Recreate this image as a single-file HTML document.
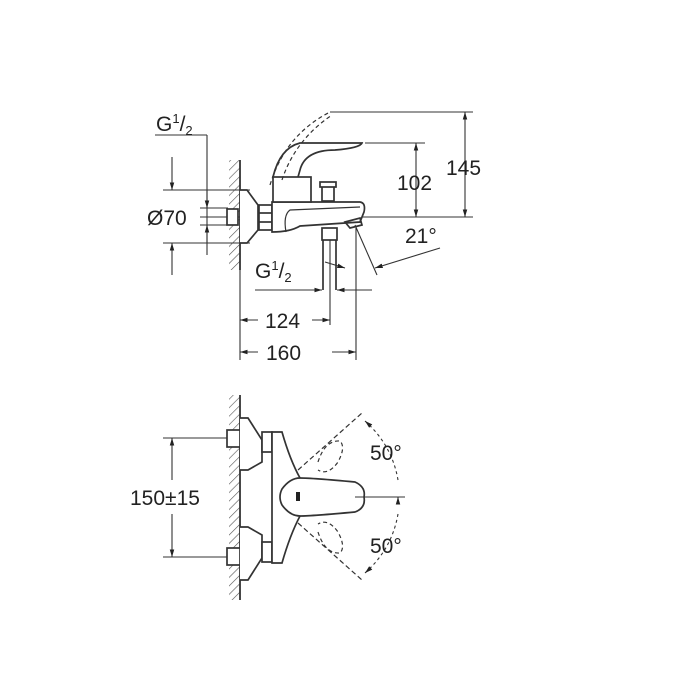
<!DOCTYPE html>
<html><head><style>html,body{margin:0;padding:0;background:#fff}svg{display:block}
text{font-family:"Liberation Sans",Arial,sans-serif;fill:#222}</style></head>
<body>
<svg width="700" height="700" viewBox="0 0 700 700" xmlns="http://www.w3.org/2000/svg">
<defs>
<pattern id="h" width="6" height="6" patternUnits="userSpaceOnUse" patternTransform="rotate(45)">
<line x1="0" y1="0" x2="0" y2="6" stroke="#555" stroke-width="1.2"/></pattern>
<marker id="a" viewBox="0 0 10 10" refX="10" refY="5" markerWidth="7" markerHeight="7" orient="auto-start-reverse"><path d="M0,2 L10,5 L0,8z" fill="#222"/></marker>
</defs>
<g stroke="#333" stroke-width="1.7" fill="none">
<!-- TOP VIEW -->
<rect x="229" y="160" width="11" height="110" fill="url(#h)" stroke="none"/>
<line x1="240" y1="160" x2="240" y2="270" stroke-width="1.8"/>
<line x1="200" y1="217" x2="473" y2="217" stroke-width="1.1"/>
<line x1="330" y1="112" x2="473" y2="112" stroke-width="1.1"/>
<line x1="465" y1="112" x2="465" y2="217" stroke-width="1.1" marker-start="url(#a)" marker-end="url(#a)"/>
<line x1="365" y1="143" x2="425" y2="143" stroke-width="1.1"/>
<line x1="416" y1="143" x2="416" y2="217" stroke-width="1.1" marker-start="url(#a)" marker-end="url(#a)"/>
<line x1="163" y1="190" x2="250" y2="190" stroke-width="1.1"/>
<line x1="163" y1="243" x2="250" y2="243" stroke-width="1.1"/>
<line x1="172" y1="157" x2="172" y2="190" stroke-width="1.1" marker-end="url(#a)"/>
<line x1="172" y1="275" x2="172" y2="243" stroke-width="1.1" marker-end="url(#a)"/>
<line x1="155" y1="135" x2="207" y2="135" stroke-width="1.1"/>
<line x1="207" y1="135" x2="207" y2="255" stroke-width="1.1"/>
<line x1="200" y1="208" x2="228" y2="208" stroke-width="1.1"/>
<line x1="200" y1="225" x2="228" y2="225" stroke-width="1.1"/>
<line x1="207" y1="190" x2="207" y2="208" stroke-width="1.1" marker-end="url(#a)"/>
<line x1="207" y1="243" x2="207" y2="225" stroke-width="1.1" marker-end="url(#a)"/>
<rect x="227" y="209" width="11" height="16" fill="#fff"/>
<path d="M240,190 L247,190 L258,205 L258,230 L247,243 L240,243" fill="#fff"/>
<rect x="259" y="205" width="13" height="25" fill="#fff"/>
<line x1="259" y1="213" x2="272" y2="213"/><line x1="259" y1="222" x2="272" y2="222"/>
<path d="M272,202 L360,202 Q366,203 364,212 L360,222 L300,226 Q290,232 272,232 Z" fill="#fff"/>
<path d="M286,232 Q283,215 290,210 L360,207" stroke-width="1.2"/>
<rect x="273" y="177" width="38" height="25" fill="#fff"/>
<path d="M273,177 Q280,148 300,143 L362,143 Q360,148 335,150 Q305,150 300,170 L298,177"/>
<path d="M270,185 Q285,135 330,112" stroke-dasharray="4,3" stroke-width="1.2"/>
<path d="M282,180 Q295,140 332,115" stroke-dasharray="4,3" stroke-width="1.2"/>
<rect x="322" y="185" width="12" height="16" fill="#fff"/><rect x="320" y="182" width="16" height="5" fill="#fff"/>
<path d="M345,222 L360,218 L362,225 L350,228 Z"/>
<rect x="322" y="228" width="15" height="12" fill="#fff"/>
<line x1="323" y1="240" x2="323" y2="290"/><line x1="336" y1="240" x2="336" y2="290"/>
<line x1="330" y1="240" x2="330" y2="325" stroke-width="1.1"/>
<line x1="356" y1="228" x2="356" y2="360" stroke-width="1.1"/>
<line x1="240" y1="270" x2="240" y2="360" stroke-width="1.1"/>
<line x1="255" y1="290" x2="322" y2="290" stroke-width="1.1" marker-end="url(#a)"/>
<line x1="372" y1="290" x2="337" y2="290" stroke-width="1.1" marker-end="url(#a)"/>
<path d="M325,262 L345,268" stroke-width="1.1" marker-end="url(#a)"/>
<line x1="240" y1="320" x2="258" y2="320" stroke-width="1.1" marker-start="url(#a)"/>
<line x1="312" y1="320" x2="330" y2="320" stroke-width="1.1" marker-end="url(#a)"/>
<line x1="240" y1="352" x2="258" y2="352" stroke-width="1.1" marker-start="url(#a)"/>
<line x1="332" y1="352" x2="356" y2="352" stroke-width="1.1" marker-end="url(#a)"/>
<line x1="355" y1="225" x2="377" y2="275" stroke-width="1.1"/>
<line x1="440" y1="248" x2="375" y2="268" stroke-width="1.1" marker-end="url(#a)"/>

<!-- BOTTOM VIEW -->
<rect x="229" y="395" width="11" height="205" fill="url(#h)" stroke="none"/>
<line x1="240" y1="395" x2="240" y2="600" stroke-width="1.8"/>
<line x1="163" y1="438" x2="232" y2="438" stroke-width="1.1"/>
<line x1="163" y1="557" x2="232" y2="557" stroke-width="1.1"/>
<line x1="172" y1="438" x2="172" y2="480" stroke-width="1.1" marker-start="url(#a)"/>
<line x1="172" y1="514" x2="172" y2="557" stroke-width="1.1" marker-end="url(#a)"/>
<rect x="227" y="430" width="13" height="17" fill="#fff"/>
<rect x="227" y="548" width="13" height="17" fill="#fff"/>
<path d="M240,418 L248,418 L262,440 L262,462 L248,470 L240,470" fill="#fff"/>
<path d="M240,527 L248,527 L262,535 L262,558 L248,580 L240,580" fill="#fff"/>
<rect x="262" y="432" width="10" height="20" fill="#fff"/>
<rect x="262" y="542" width="10" height="20" fill="#fff"/>
<path d="M272,432 L282,432 Q290,460 300,478 L300,516 Q290,535 282,563 L272,563 Z" fill="#fff"/>
<path d="M300,478 Q312,478 355,482 Q366,487 364,497 Q366,508 355,512 Q312,516 300,516 Q290,516 282,505 Q278,497 282,489 Q290,478 300,478 Z" fill="#fff"/>
<rect x="296" y="492" width="4" height="9" fill="#222" stroke="none"/>
<line x1="355" y1="497" x2="405" y2="497" stroke-width="1.1"/>
<path d="M298,470 L362,413" stroke-dasharray="5,3" stroke-width="1.2"/>
<path d="M298,523 L362,580" stroke-dasharray="5,3" stroke-width="1.2"/>
<path d="M318,462 Q325,440 340,441 Q346,447 338,462 Q328,476 318,470" stroke-dasharray="4,3" stroke-width="1.2"/>
<path d="M318,532 Q325,554 340,553 Q346,547 338,532 Q328,518 318,524" stroke-dasharray="4,3" stroke-width="1.2"/>
<path d="M365,421 Q392,445 398,480" stroke-width="1.1" stroke-dasharray="3,3" marker-start="url(#a)"/>
<path d="M398,500 L398,497" stroke-width="1.1" marker-end="url(#a)"/>
<path d="M365,573 Q392,549 398,514" stroke-width="1.1" stroke-dasharray="3,3" marker-start="url(#a)"/>
</g>
<g font-size="21">
<text x="156" y="131">G<tspan font-size="13" dy="-8">1</tspan><tspan dy="8">/</tspan><tspan font-size="13" dy="4">2</tspan></text>
<text x="147" y="225">Ø70</text>
<text x="397" y="190">102</text>
<text x="446" y="175">145</text>
<text x="405" y="243">21°</text>
<text x="255" y="278">G<tspan font-size="13" dy="-8">1</tspan><tspan dy="8">/</tspan><tspan font-size="13" dy="4">2</tspan></text>
<text x="265" y="328">124</text>
<text x="266" y="360">160</text>
<text x="130" y="505">150±15</text>
<text x="370" y="460">50°</text>
<text x="370" y="553">50°</text>
</g>
</svg>
</body></html>
